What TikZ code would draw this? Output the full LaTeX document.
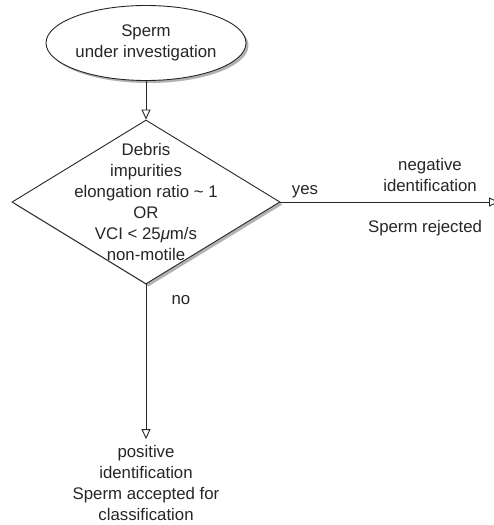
\documentclass[tikz,border=0pt]{standalone}
\usepackage{fontspec}
\setmainfont{Liberation Sans}
\usetikzlibrary{shapes.geometric,arrows.meta,shadows}

\begin{document}
\begin{tikzpicture}[x=1pt,y=-1pt,
  font=\fontsize{16.8}{21}\selectfont, text=black!85,
  flowline/.style={draw=black!85, line width=0.9pt, -{Triangle[open,length=10pt,width=9pt]}},
  dropshade/.style={drop shadow={shadow xshift=2.5pt,shadow yshift=-2.5pt,opacity=0.3,fill=black}},
  lbl/.style={align=center, inner sep=0pt}]
\useasboundingbox (0,0) rectangle (493,525);

\node[ellipse, draw=black!85, line width=0.9pt, fill=white, dropshade,
  minimum width=200pt, minimum height=75pt, lbl] (start) at (146,43) {Sperm\\under investigation};

\node[diamond, draw=black!85, line width=0.9pt, fill=white, dropshade,
  minimum width=268pt, minimum height=164pt, inner sep=0pt] (test) at (146,202) {};
\node[lbl] (testtext) at (test) {Debris\\impurities\\elongation ratio \textasciitilde{} 1\\OR\\VCI < 25{\itshape μ}m/s\\non-motile};

\draw[flowline] (start) -- (test);

\coordinate (rejectend) at (499,202);
\draw[flowline] (test.east) -- (rejectend);
\node[lbl] (yes) at (305,192) {yes};
\node[lbl] (negative) at (430,175) {negative\\identification};
\node[lbl] (rejected) at (425,228) {Sperm rejected};

\node[lbl] (accept) at (146,483) {positive\\identification\\Sperm accepted for\\classification};
\draw[flowline, shorten >=6pt] (test.south) -- (accept.north);
\node[lbl] (no) at (181,300) {no};
\end{tikzpicture}
\end{document}
